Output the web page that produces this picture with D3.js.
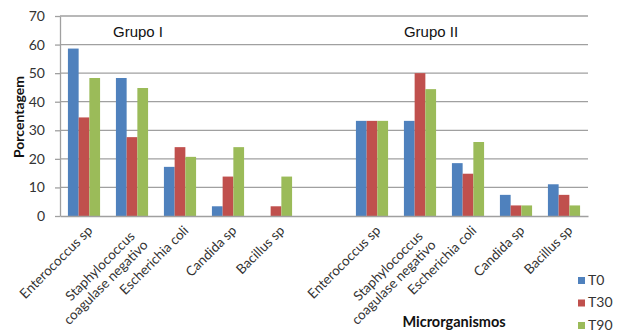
<!DOCTYPE html>
<html>
<head>
<meta charset="utf-8">
<script src="https://cdn.jsdelivr.net/npm/d3@7"></script>
<style>
  html, body { margin: 0; padding: 0; background: #fff; }
  svg { display: block; }
</style>
</head>
<body>
<svg id="chart" width="618" height="331"></svg>
<script>
// Microorganism names per group (line breaks split long names)
const microorganisms = ["Enterococcus sp", "Staphylococcus\ncoagulase negativo", "Escherichia coli", "Candida sp", "Bacillus sp"];
const groups = ["Grupo I", "Grupo II"];
const seriesNames = ["T0", "T30", "T90"];
const seriesColors = ["#4F81BD", "#C0504D", "#9BBB59"];

// Percentages, Grupo I followed by Grupo II
const valuesT0  = [58.6, 48.3, 17.2, 3.4, 0.0,   33.3, 33.3, 18.5, 7.4, 11.1];
const valuesT30 = [34.5, 27.6, 24.1, 13.8, 3.4,  33.3, 50.0, 14.8, 3.7, 7.4];
const valuesT90 = [48.3, 44.8, 20.7, 24.1, 13.8, 33.3, 44.4, 25.9, 3.7, 3.7];

const yTicks = [0, 10, 20, 30, 40, 50, 60, 70];
const yTitle = "Porcentagem";
const xTitle = "Microrganismos";

const svg = d3.select("#chart");
const margin = { left: 60, right: 30, top: 16, bottom: 115 };
const W = 618, H = 331;
const plotR = W - margin.right, plotB = H - margin.bottom;

// Category slots: group I, an empty spacer, group II
const slots = [];
groups.forEach((g, gi) => {
  if (gi > 0) slots.push({ key: "gap" + gi, gap: true });
  microorganisms.forEach((m, mi) => slots.push({ key: g + "|" + m, name: m, group: gi, idx: gi * microorganisms.length + mi }));
});

const x = d3.scaleBand().domain(slots.map(s => s.key)).range([margin.left, plotR]).paddingInner(0.33).paddingOuter(0.165);
const xs = d3.scaleBand().domain(seriesNames).range([0, x.bandwidth()]);
const y = d3.scaleLinear().domain([0, 70]).range([plotB, margin.top]);
const cx = key => x(key) + x.bandwidth() / 2;

const series = [valuesT0, valuesT30, valuesT90];
const labelFont = "Lato, 'Liberation Sans', sans-serif";
const textColor = "#333";

// gridlines
svg.append("g").selectAll("line").data(yTicks.filter(t => t > 0)).join("line")
  .attr("x1", margin.left).attr("x2", plotR)
  .attr("y1", d => y(d)).attr("y2", d => y(d))
  .attr("stroke", "#a0a0a0").attr("stroke-width", 1.3);

// y axis
const yAxis = svg.append("g").attr("transform", `translate(${margin.left},0)`)
  .call(d3.axisLeft(y).tickValues(yTicks).tickSize(5).tickPadding(10).tickSizeOuter(0));
yAxis.select(".domain").attr("stroke", "#a0a0a0").attr("stroke-width", 1.3);
yAxis.selectAll(".tick line").attr("stroke", "#a0a0a0").attr("stroke-width", 1.3);
yAxis.selectAll(".tick text").attr("fill", textColor).style("font-family", labelFont).style("font-size", "14px");

// bars
const barData = [];
slots.filter(s => !s.gap).forEach(s => {
  seriesNames.forEach((n, si) => barData.push({ slot: s.key, series: n, si, value: series[si][s.idx] }));
});
svg.append("g").selectAll("rect").data(barData).join("rect")
  .attr("x", d => x(d.slot) + xs(d.series))
  .attr("width", xs.bandwidth())
  .attr("y", d => y(d.value))
  .attr("height", d => y(0) - y(d.value))
  .attr("fill", d => seriesColors[d.si]);

// x axis line
svg.append("g").attr("transform", `translate(0,${plotB})`)
  .call(d3.axisBottom(x).tickSize(0).tickFormat(""))
  .select(".domain").attr("stroke", "#a0a0a0").attr("stroke-width", 1.3);

// rotated category labels; shorter lines of a wrapped name are pulled back slightly
const lab = svg.append("g").selectAll("text").data(slots.filter(s => !s.gap)).join("text")
  .attr("transform", d => `translate(${cx(d.key) + 6},${plotB + 12}) rotate(-45)`)
  .attr("text-anchor", "end")
  .attr("fill", textColor)
  .style("font-family", labelFont).style("font-size", "13.5px");
lab.each(function (d) {
  const lines = d.name.split("\n");
  const t = d3.select(this);
  const spans = lines.map((ln, i) => t.append("tspan").attr("x", 0)
    .attr("dy", i === 0 ? "0.35em" : "1.15em")
    .text(ln));
  if (lines.length > 1) {
    const lens = spans.map(s => s.node().getComputedTextLength());
    const maxLen = d3.max(lens);
    spans.forEach((s, i) => s.attr("x", -(maxLen - lens[i]) * 0.15 - 5));
  }
});

// group captions, above the second and third categories of each group
const captionX = [cx(slots[1].key) + 6, cx(slots[7].key) + 11];
svg.append("g").selectAll("text").data(groups).join("text")
  .attr("x", (d, i) => captionX[i])
  .attr("y", 37)
  .attr("text-anchor", "middle")
  .attr("fill", "#111")
  .style("font-family", "'Liberation Sans', Arial, sans-serif").style("font-size", "15px")
  .text(d => d);

// axis titles
svg.append("text")
  .attr("transform", `translate(24,${(margin.top + plotB) / 2 + 1}) rotate(-90)`)
  .attr("text-anchor", "middle").attr("fill", "#111")
  .style("font-family", labelFont).style("font-size", "14px").style("font-weight", "bold")
  .text(yTitle);
svg.append("text")
  .attr("x", 454).attr("y", 327)
  .attr("text-anchor", "middle").attr("fill", "#111")
  .style("font-family", labelFont).style("font-size", "14.5px").style("font-weight", "bold")
  .text(xTitle);

// legend
const leg = svg.append("g").selectAll("g").data(seriesNames).join("g")
  .attr("transform", (d, i) => `translate(578,${277 + i * 22.5})`);
leg.append("rect").attr("width", 7).attr("height", 7).attr("fill", (d, i) => seriesColors[i]);
leg.append("text").attr("x", 10).attr("y", 7.5)
  .attr("fill", textColor)
  .style("font-family", labelFont).style("font-size", "14px")
  .text(d => d);
</script>
</body>
</html>
